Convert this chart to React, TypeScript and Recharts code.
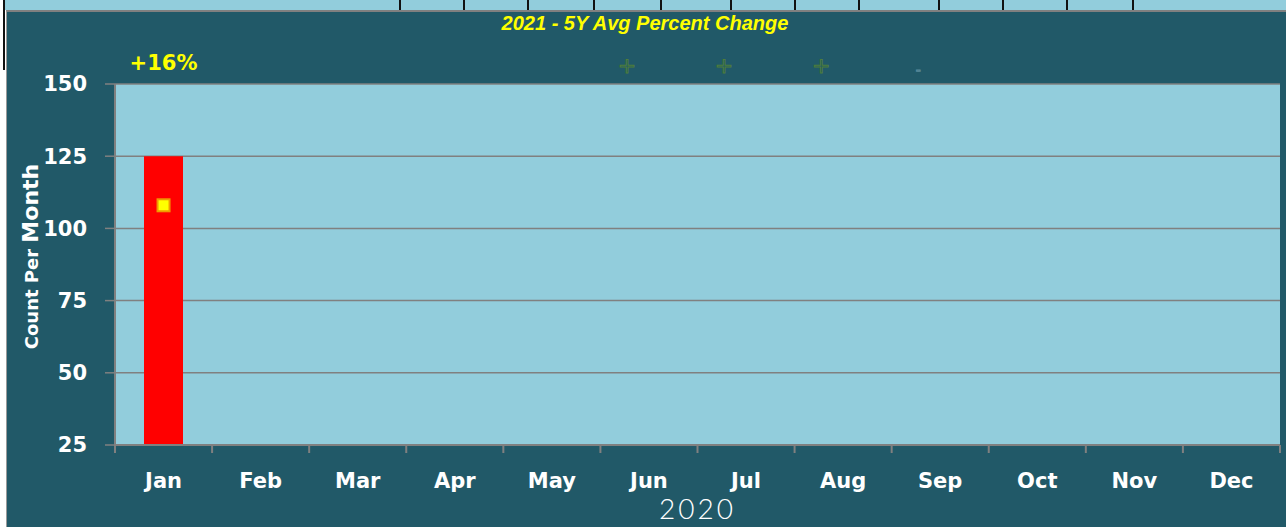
import { Bar, CartesianGrid, ComposedChart, Label, Line, XAxis, YAxis } from "recharts"

const months = ["Jan", "Feb", "Mar", "Apr", "May", "Jun", "Jul", "Aug", "Sep", "Oct", "Nov", "Dec"]
const counts: (number | null)[] = [125, null, null, null, null, null, null, null, null, null, null, null]
const fiveYearAvg: (number | null)[] = [108, null, null, null, null, null, null, null, null, null, null, null]
const changeLabels = ["+16%", "", "", "", "", "+", "+", "+", "-", "", "", ""]
const yTicks = [25, 50, 75, 100, 125, 150]
const yearLabel = "2020"
const title = "2021 - 5Y Avg Percent Change"

// leftover table column rules in the strip above the chart
const stripRules = [399, 463, 527, 593, 660, 730, 794, 858, 938, 1002, 1066, 1132]

const W = 1286
const H = 527
const MARGIN = { top: 54, right: 6, bottom: 0, left: 0 }
const Y_W = 115
const BAND = (W - Y_W - MARGIN.right) / months.length

const TEAL = "#215968"
const AQUA = "#92CDDC"
const GRAY = "#808080"
const FONT = "'DejaVu Sans', sans-serif"

const data = months.map((m, i) => ({
  month: m,
  count: counts[i],
  avg: fiveYearAvg[i],
}))

function ChangeTick(props: any) {
  const { x, y, index } = props
  const txt = changeLabels[index]
  if (!txt) return <g />
  if (txt.length > 1) {
    return (
      <text x={x} y={y - 14} textAnchor="middle" fill="#FFFF00" fontFamily={FONT} fontWeight="bold" fontSize={21}>
        {txt}
      </text>
    )
  }
  if (txt === "+") {
    return (
      <text x={x - 22} y={y - 11} textAnchor="middle" fill="none" stroke="#4E7D3A" strokeWidth={1} fontFamily={FONT} fontSize={22}>
        +
      </text>
    )
  }
  return (
    <text x={x - 22} y={y - 9} textAnchor="middle" fill="none" stroke="#5A8A9A" strokeWidth={1} fontFamily={FONT} fontSize={14}>
      -
    </text>
  )
}

function MonthTick(props: any) {
  const { x, y, payload, index } = props
  const half = BAND / 2
  return (
    <g>
      <line x1={x - half} x2={x - half} y1={y} y2={y + 8} stroke={GRAY} strokeWidth={2} />
      {index === months.length - 1 ? (
        <line x1={x + half} x2={x + half} y1={y} y2={y + 8} stroke={GRAY} strokeWidth={2} />
      ) : null}
      <text x={x} y={y + 43} textAnchor="middle" fill="#fff" fontFamily={FONT} fontWeight="bold" fontSize={21}>
        {payload.value}
      </text>
    </g>
  )
}

function AvgDot(props: any) {
  const { cx, cy, index } = props
  if (cx == null || cy == null || fiveYearAvg[index] == null) return <g key={index} />
  return <rect key={index} x={cx - 6} y={cy - 6} width={12} height={12} fill="#FFFF00" stroke="#F09A00" strokeWidth={2} />
}

export default function App() {
  return (
    <div style={{ position: "absolute", left: 0, top: 0, width: W, height: H, background: "#fff", overflow: "hidden" }}>
      <div style={{ position: "absolute", left: 5, top: 0, right: 0, height: 10, background: AQUA }} />
      {stripRules.map((x) => (
        <div key={x} style={{ position: "absolute", left: x, top: 0, width: 2, height: 10, background: "#111" }} />
      ))}
      <div style={{ position: "absolute", left: 3, top: 0, width: 2, height: 70, background: "#111" }} />
      <div
        style={{
          position: "absolute",
          left: 6,
          top: 10,
          right: 0,
          bottom: 0,
          background: TEAL,
          borderTop: `2px solid ${GRAY}`,
          borderLeft: "1px solid #9a9a9a",
        }}
      />
      <div
        style={{
          position: "absolute",
          left: 0,
          width: 1290,
          top: 12,
          textAlign: "center",
          color: "#FFFF00",
          fontFamily: "'Liberation Sans Narrow', 'Liberation Sans', sans-serif",
          fontStyle: "italic",
          fontWeight: "bold",
          fontSize: 20,
        }}
      >
        {title}
      </div>
      <div style={{ position: "absolute", left: 0, top: 0 }}>
        <ComposedChart width={W} height={H} data={data} margin={MARGIN}>
          <CartesianGrid vertical={false} fill={AQUA} stroke={GRAY} strokeWidth={1.5} />
          <XAxis
            xAxisId="top"
            orientation="top"
            dataKey="month"
            height={30}
            axisLine={false}
            tickLine={false}
            tickSize={0}
            tickMargin={0}
            interval={0}
            tick={ChangeTick}
          />
          <XAxis
            dataKey="month"
            height={82}
            interval={0}
            axisLine={{ stroke: GRAY, strokeWidth: 2 }}
            tickLine={false}
            tickSize={0}
            tickMargin={0}
            tick={MonthTick}
          >
            <Label
              content={(p: any) => {
                const vb = p.viewBox
                return (
                  <text
                    x={vb.x + vb.width / 2}
                    y={vb.y + vb.height - 8}
                    textAnchor="middle"
                    fill="#fff"
                    fontFamily="Lato, sans-serif"
                    fontWeight={300}
                    fontSize={28}
                    letterSpacing={3}
                  >
                    {yearLabel}
                  </text>
                )
              }}
            />
          </XAxis>
          <YAxis
            width={Y_W}
            domain={[25, 150]}
            ticks={yTicks}
            interval={0}
            axisLine={{ stroke: GRAY, strokeWidth: 2 }}
            tickLine={{ stroke: GRAY, strokeWidth: 1.5 }}
            tickSize={10}
            tickMargin={18}
            tick={{ fill: "#fff", fontFamily: FONT, fontWeight: "bold", fontSize: 21 }}
          >
            <Label
              content={(p: any) => {
                const vb = p.viewBox
                const cx = 38
                const cy = vb.y + vb.height / 2 - 8
                return (
                  <text
                    x={cx}
                    y={cy}
                    transform={`rotate(-90 ${cx} ${cy})`}
                    textAnchor="middle"
                    fill="#fff"
                    fontFamily={FONT}
                    fontWeight="bold"
                  >
                    <tspan fontSize={18}>Count Per </tspan>
                    <tspan fontSize={22}>Month</tspan>
                  </text>
                )
              }}
            />
          </YAxis>
          <Bar dataKey="count" fill="#FF0000" barSize={39} isAnimationActive={false} />
          <Line dataKey="avg" stroke="none" dot={AvgDot} activeDot={false} isAnimationActive={false} />
        </ComposedChart>
      </div>
    </div>
  )
}
